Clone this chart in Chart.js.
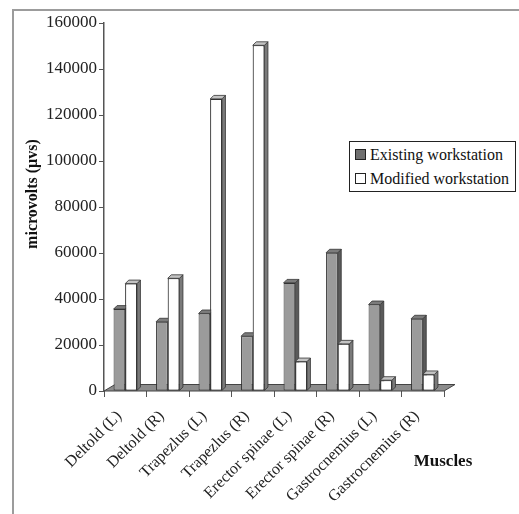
<!DOCTYPE html>
<html>
<head>
<meta charset="utf-8">
<title>Muscle activity by workstation</title>
<script src="https://cdn.jsdelivr.net/npm/chart.js@4.4.0/dist/chart.umd.min.js"></script>
<style>
  html, body { margin: 0; padding: 0; background: #fff; width: 519px; height: 514px; overflow: hidden; }
  #frame { position: absolute; left: 12px; top: 9px; width: 600px; height: 600px; border: 2px solid #9c9c9c; box-sizing: border-box; }
  #chart { position: absolute; left: 0; top: 0; }
  #legend { position: absolute; left: 349px; top: 141px; width: 167px; height: 51px; border: 1px solid #222; background: #fff; box-sizing: border-box;
            font-family: "Liberation Serif", "Times New Roman", serif; font-size: 16px; color: #111; }
  .item { position: absolute; left: 5px; height: 20px; line-height: 20px; white-space: nowrap; }
  .sw { display: inline-block; width: 9px; height: 9px; border: 1px solid #222; margin-right: 4px; vertical-align: 0px; }
</style>
</head>
<body>
<div id="frame"></div>
<canvas id="chart" width="519" height="514"></canvas>
<div id="legend"></div>
<script>
// EMG activity per muscle, existing vs modified workstation
const muscles = ['Deltold (L)', 'Deltold (R)', 'Trapezlus (L)', 'Trapezlus (R)',
                 'Erector spinae (L)', 'Erector spinae (R)', 'Gastrocnemius (L)', 'Gastrocnemius (R)'];
const existingWorkstation = [35600, 30100, 33700, 23800, 47000, 60100, 37600, 31400];
const modifiedWorkstation = [46700, 49000, 127000, 150300, 12800, 20500, 4700, 7200];
const seriesNames = ['Existing workstation', 'Modified workstation'];
const yTicks = [0, 20000, 40000, 60000, 80000, 100000, 120000, 140000, 160000];
const yTitle = 'microvolts (µvs)';
const xTitle = 'Muscles';

const SERIF = '"Liberation Serif", "Times New Roman", serif';
const faces = [
  { front: '#9b9b9b', side: '#5a5a5a', top: '#7c7c7c' },
  { front: '#ffffff', side: '#7a7a7a', top: '#c4c4c4' }
];
const DEPTH = 3.5;

// floor slab under the columns
const floorPlugin = {
  id: 'floor',
  beforeDatasetsDraw(chart) {
    const { ctx, chartArea: a } = chart;
    const dx = 11, dy = 6.5;
    ctx.save();
    ctx.beginPath();
    ctx.moveTo(a.left, a.bottom);
    ctx.lineTo(a.right, a.bottom);
    ctx.lineTo(a.right + dx, a.bottom - dy);
    ctx.lineTo(a.left + dx, a.bottom - dy);
    ctx.closePath();
    ctx.fillStyle = '#8c8c8c';
    ctx.fill();
    ctx.strokeStyle = '#444';
    ctx.lineWidth = 1;
    ctx.stroke();
    ctx.restore();
  }
};

function drawFaces(ctx, el, f) {
  const d = DEPTH;
  const p = el.getProps(['x', 'y', 'base', 'width'], true);
  const l = p.x - p.width / 2, r = p.x + p.width / 2, t = p.y, b = p.base;
  ctx.beginPath();
  ctx.moveTo(r, t); ctx.lineTo(r + d, t - d); ctx.lineTo(r + d, b - d); ctx.lineTo(r, b);
  ctx.closePath();
  ctx.fillStyle = f.side; ctx.fill(); ctx.stroke();
  ctx.beginPath();
  ctx.moveTo(l, t); ctx.lineTo(l + d, t - d); ctx.lineTo(r + d, t - d); ctx.lineTo(r, t);
  ctx.closePath();
  ctx.fillStyle = f.top; ctx.fill(); ctx.stroke();
}

// side and top faces give each column its depth; the right-hand column of
// each pair is drawn again on top so it hides the left column's side face
const depthPlugin = {
  id: 'depth',
  afterDatasetsDraw(chart) {
    const { ctx } = chart;
    const m0 = chart.getDatasetMeta(0), m1 = chart.getDatasetMeta(1);
    ctx.save();
    ctx.strokeStyle = '#333';
    ctx.lineWidth = 0.8;
    m0.data.forEach(el => drawFaces(ctx, el, faces[0]));
    ctx.restore();
    m1.data.forEach(el => el.draw(ctx, chart.chartArea));
    ctx.save();
    ctx.strokeStyle = '#333';
    ctx.lineWidth = 0.8;
    m1.data.forEach(el => drawFaces(ctx, el, faces[1]));
    ctx.restore();
  }
};

// axis titles
const titlePlugin = {
  id: 'axisTitles',
  afterDraw(chart) {
    const { ctx } = chart;
    ctx.save();
    ctx.fillStyle = '#111';
    ctx.textAlign = 'center';
    ctx.textBaseline = 'middle';
    ctx.font = 'bold 16px ' + SERIF;
    ctx.translate(33, 194);
    ctx.rotate(-Math.PI / 2);
    ctx.fillText(yTitle, 0, 0);
    ctx.restore();
    ctx.save();
    ctx.fillStyle = '#111';
    ctx.textAlign = 'center';
    ctx.textBaseline = 'middle';
    ctx.font = 'bold 17px ' + SERIF;
    ctx.fillText(xTitle, 443, 462);
    ctx.restore();
  }
};

const chart = new Chart(document.getElementById('chart'), {
  type: 'bar',
  data: {
    labels: muscles,
    datasets: [
      { label: seriesNames[0], data: existingWorkstation, backgroundColor: faces[0].front,
        borderColor: '#333', borderWidth: 1, borderSkipped: false },
      { label: seriesNames[1], data: modifiedWorkstation, backgroundColor: faces[1].front,
        borderColor: '#333', borderWidth: 1, borderSkipped: false }
    ]
  },
  options: {
    responsive: false,
    animation: false,
    layout: { padding: { left: 0, top: 23, right: 75, bottom: 0 } },
    categoryPercentage: 0.55,
    barPercentage: 1,
    plugins: { legend: { display: false }, tooltip: { enabled: false } },
    scales: {
      x: {
        grid: { display: true, drawOnChartArea: false, drawTicks: true, tickLength: 6, color: '#555', offset: true },
        border: { display: false },
        ticks: { autoSkip: false, minRotation: 45, maxRotation: 45, padding: 10, labelOffset: -6,
                 color: '#222', font: { family: SERIF, size: 16 } },
        afterFit(s) { s.height = 123; }
      },
      y: {
        min: 0, max: 160000,
        afterBuildTicks(s) { s.ticks = yTicks.map(v => ({ value: v })); },
        grid: { display: true, drawOnChartArea: false, drawTicks: true, tickLength: 5, color: '#555' },
        border: { display: true, color: '#555', width: 1.5 },
        ticks: { padding: 2, color: '#222', font: { family: SERIF, size: 17 }, callback: v => String(v) },
        afterFit(s) { s.width = 104; }
      }
    }
  },
  plugins: [floorPlugin, depthPlugin, titlePlugin]
});

// legend box
const legend = document.getElementById('legend');
seriesNames.forEach((name, i) => {
  const row = document.createElement('div');
  row.className = 'item';
  row.style.top = (3 + i * 24) + 'px';
  const sw = document.createElement('span');
  sw.className = 'sw';
  sw.style.background = i === 0 ? '#6f6f6f' : '#fff';
  row.appendChild(sw);
  row.appendChild(document.createTextNode(name));
  legend.appendChild(row);
});
</script>
</body>
</html>
